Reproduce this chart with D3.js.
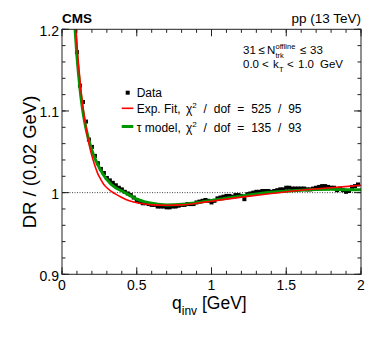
<!DOCTYPE html>
<html><head><meta charset="utf-8">
<script src="https://cdn.jsdelivr.net/npm/d3@7"></script>
<style>body{margin:0;background:#fff}svg{display:block;font-family:"Liberation Sans",Arial,sans-serif}</style>
</head><body>
<svg id="c" width="374" height="338"></svg>
<script>
// ---- data ----
const qData = [0.10,0.12,0.14,0.16,0.18,0.20,0.22,0.24,0.26,0.28,0.30,0.32,0.34,0.36,0.38,0.40,0.42,0.44,0.46,0.48,
 0.50,0.52,0.54,0.56,0.58,0.60,0.62,0.64,0.66,0.68,0.70,0.72,0.74,0.76,0.78,0.80,0.82,0.84,0.86,0.88,
 0.90,0.92,0.94,0.96,0.98,1.00,1.02,1.04,1.06,1.08,1.10,1.12,1.14,1.16,1.18,1.20,1.22,1.24,1.26,1.28,
 1.30,1.32,1.34,1.36,1.38,1.40,1.42,1.44,1.46,1.48,1.50,1.52,1.54,1.56,1.58,1.60,1.62,1.64,1.66,1.68,
 1.70,1.72,1.74,1.76,1.78,1.80,1.82,1.84,1.86,1.88,1.90,1.92,1.94,1.96,1.98];
const drData = [1.172,1.131,1.111,1.087,1.065,1.056,1.045,1.036,1.029,1.024,1.018,1.015,1.012,1.009,1.006,1.004,1.001,0.999,0.997,0.994,
 0.991,0.989,0.987,0.987,0.986,0.985,0.985,0.983,0.983,0.983,0.982,0.982,0.983,0.983,0.984,0.985,0.985,0.986,0.986,0.986,
 0.988,0.989,0.990,0.991,0.990,0.988,0.990,0.993,0.994,0.995,0.996,0.996,0.995,0.997,0.997,0.996,0.992,0.998,0.999,1.000,
 1.001,1.001,1.002,1.002,1.002,1.001,1.002,1.003,1.004,1.004,1.006,1.006,1.005,1.005,1.005,1.005,1.005,1.004,1.004,1.005,
 1.006,1.007,1.008,1.008,1.007,1.006,1.006,1.003,1.005,1.003,1.001,1.002,1.007,1.008,1.010];
const expQ  = [0.08,0.09,0.10,0.11,0.12,0.13,0.14,0.16,0.18,0.20,0.22,0.24,0.26,0.28,0.30,0.35,0.40,0.45,0.50,0.55,0.60,0.70,0.80,0.90,1.00,1.20,1.40,1.60,1.80,2.00];
const expDR = [1.245,1.212,1.182,1.158,1.138,1.120,1.105,1.080,1.060,1.045,1.033,1.023,1.016,1.010,1.006,0.999,0.994,0.990,0.9875,0.986,0.985,0.9845,0.985,0.987,0.9895,0.9945,0.999,1.003,1.006,1.009];
const tauQ  = [0.08,0.09,0.10,0.11,0.12,0.13,0.14,0.16,0.18,0.20,0.22,0.24,0.26,0.28,0.30,0.35,0.40,0.45,0.50,0.55,0.60,0.70,0.80,0.90,1.00,1.20,1.40,1.60,1.80,1.90,2.00];
const tauDR = [1.222,1.193,1.167,1.146,1.128,1.112,1.099,1.079,1.064,1.052,1.042,1.034,1.027,1.021,1.016,1.007,1.002,0.997,0.992,0.989,0.987,0.985,0.9855,0.9875,0.9905,0.996,1.0005,1.003,1.004,1.0035,1.0035];
const xTicks = [0, 0.5, 1, 1.5, 2];
const xTickLabels = ["0","0.5","1","1.5","2"];
const yTicks = [0.9, 1.0, 1.1, 1.2];
const yTickLabels = ["0.9","1","1.1","1.2"];

// ---- layout ----
const L = 62, R = 361, T = 29.3, B = 274.3;
const x = d3.scaleLinear().domain([0, 2]).range([L, R]);
const y = d3.scaleLinear().domain([0.9, 1.2]).range([B, T]);
const svg = d3.select("#c");

svg.append("clipPath").attr("id","clip").append("rect")
  .attr("x", L).attr("y", T).attr("width", R - L).attr("height", B - T);

// reference line at 1
svg.append("line").attr("x1", x(0)).attr("x2", x(2)).attr("y1", y(1)).attr("y2", y(1))
  .attr("stroke", "#444").attr("stroke-width", 1).attr("stroke-dasharray", "1,1.5");

const line = d3.line().x(d => x(d[0])).y(d => y(d[1])).curve(d3.curveMonotoneX);
const g = svg.append("g").attr("clip-path", "url(#clip)");

// data markers
g.selectAll("rect.pt").data(d3.zip(qData, drData)).join("rect")
  .attr("class","pt").attr("x", d => x(d[0]) - 2).attr("y", d => y(d[1]) - 2)
  .attr("width", 4).attr("height", 4).attr("fill", "#000");

g.append("path").datum(d3.zip(tauQ, tauDR)).attr("d", line)
  .attr("fill","none").attr("stroke","#009600").attr("stroke-width", 3);
g.append("path").datum(d3.zip(expQ, expDR)).attr("d", line)
  .attr("fill","none").attr("stroke","#ff0000").attr("stroke-width", 1.6);

// axes: frame and ticks (inward, all four sides)
const tickCol = "#222";
const xMaj = d3.range(0, 2.0001, 0.5), xMin = d3.range(0, 2.0001, 0.1);
const yMaj = d3.range(0.9, 1.2001, 0.1), yMin = d3.range(0.9, 1.2001, 0.02);
const ax = svg.append("g").attr("stroke", tickCol).attr("stroke-width", 1);
function xt(v, len){
  ax.append("line").attr("x1", x(v)).attr("x2", x(v)).attr("y1", B).attr("y2", B - len);
  ax.append("line").attr("x1", x(v)).attr("x2", x(v)).attr("y1", T).attr("y2", T + len);
}
function yt(v, len){
  ax.append("line").attr("x1", L).attr("x2", L + len).attr("y1", y(v)).attr("y2", y(v));
  ax.append("line").attr("x1", R).attr("x2", R - len).attr("y1", y(v)).attr("y2", y(v));
}
xMin.forEach(v => xt(v, 3.5)); xMaj.forEach(v => xt(v, 7));
yMin.forEach(v => yt(v, 3.5)); yMaj.forEach(v => yt(v, 7));
svg.append("rect").attr("x", L).attr("y", T).attr("width", R - L).attr("height", B - T)
  .attr("fill","none").attr("stroke", tickCol).attr("stroke-width", 1);

// tick labels
svg.selectAll("text.xl").data(xTicks).join("text").attr("class","xl")
  .attr("x", d => x(d)).attr("y", 290).attr("text-anchor","middle")
  .attr("font-size", 14).text((d,i) => xTickLabels[i]);
svg.selectAll("text.yl").data(yTicks).join("text").attr("class","yl")
  .attr("x", 59).attr("y", d => y(d) + 6.5).attr("text-anchor","end")
  .attr("font-size", 14).text((d,i) => yTickLabels[i]);

// axis titles
const xt1 = svg.append("text").attr("x", 172).attr("y", 309).attr("font-size", 17.5);
xt1.append("tspan").text("q");
xt1.append("tspan").attr("font-size", 12).attr("dy", 6).text("inv");
xt1.append("tspan").attr("dy", -6).text(" [GeV]");

svg.append("text").attr("transform", "translate(36,162) rotate(-90)")
  .attr("text-anchor","middle").attr("font-size", 18.5).text("DR / (0.02 GeV)");

// header
svg.append("text").attr("x", 62).attr("y", 22.7).attr("font-size", 13.5).attr("font-weight","bold").text("CMS");
svg.append("text").attr("x", 361).attr("y", 23).attr("text-anchor","end").attr("font-size", 13.5).text("pp (13 TeV)");

// selection text
const fs = 11.5;
function put(t, xx, yy, size){ svg.append("text").attr("x", xx).attr("y", yy).attr("font-size", size || fs).text(t); }
put("31", 243, 54); put("≤", 258.5, 54); put("N", 267, 54);
put("offline", 275.5, 48.5, 7.5); put("trk", 275.5, 57.5, 7.5);
put("≤", 300, 54); put("33", 310, 54);
put("0.0", 243, 68); put("<", 262, 68); put("k", 273, 68); put("T", 279, 71.5, 7.5);
put("<", 287, 68); put("1.0", 298, 68); put("GeV", 320, 68);

// legend
svg.append("rect").attr("x", 125.7).attr("y", 90.7).attr("width", 4).attr("height", 4).attr("fill","#000");
put("Data", 136.7, 96.5, 12);
svg.append("line").attr("x1", 121.7).attr("x2", 133.3).attr("y1", 108.3).attr("y2", 108.3).attr("stroke","#ff0000").attr("stroke-width",1.6);
svg.append("line").attr("x1", 121.7).attr("x2", 133.3).attr("y1", 126.5).attr("y2", 126.5).attr("stroke","#009600").attr("stroke-width",3);
function legText(label, chi, yy){
  const t = svg.append("text").attr("x", 136.7).attr("y", yy).attr("font-size", 12);
  t.append("tspan").text(label);
  const t2 = svg.append("text").attr("x", 186).attr("y", yy).attr("font-size", 12)
    .attr("word-spacing", 3.5);
  t2.append("tspan").text("χ");
  t2.append("tspan").attr("font-size", 8).attr("dy", -5).text("2");
  t2.append("tspan").attr("dy", 5).text(" / dof = " + chi);
}
legText("Exp. Fit,", "525 / 95", 113.3);
legText("τ model,", "135 / 93", 131.5);
</script>
</body></html>
